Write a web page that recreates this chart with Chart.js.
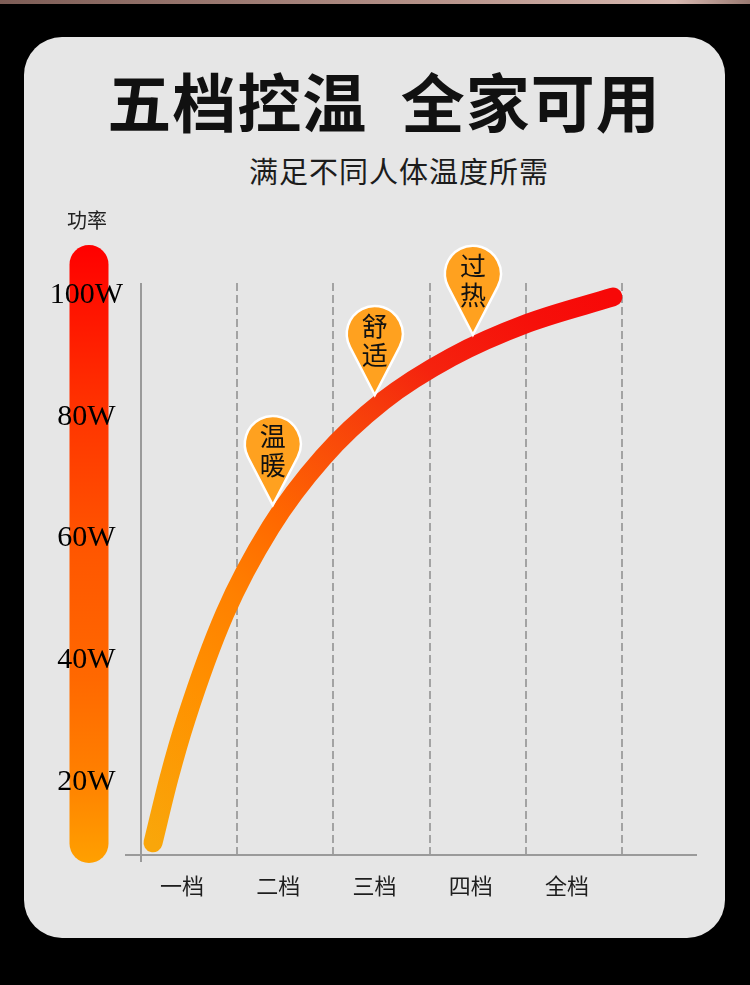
<!DOCTYPE html>
<html lang="zh-CN">
<head>
<meta charset="utf-8">
<title>五档控温 全家可用</title>
<script src="https://cdn.jsdelivr.net/npm/chart.js@4.4.1/dist/chart.umd.min.js"></script>
<style>
  html, body { margin: 0; padding: 0; background: #000; }
  body { width: 750px; height: 985px; position: relative; overflow: hidden; font-family: "Noto Sans CJK SC", sans-serif; }
  .strip { position: absolute; left: 0; top: 0; width: 750px; height: 4px; background: linear-gradient(90deg, #7d5d56, #b8948b 60%, #d6b8b0 90%, #9a7a72); }
  .card { position: absolute; left: 24px; top: 37px; width: 701px; height: 901px; border-radius: 38px; background: #e6e6e6; }
  .title { position: absolute; left: 0; top: 67px; width: 768px; text-align: center; font-size: 64px; line-height: 64px; font-weight: 700; color: #111; letter-spacing: 1px; word-spacing: 18px; white-space: pre; z-index: 2; }
  .subtitle { position: absolute; left: 0; top: 155px; width: 798px; text-align: center; font-size: 29px; line-height: 30px; color: #1c1c1c; letter-spacing: 1px; z-index: 2; }
  .unit { position: absolute; left: 67px; top: 209px; font-size: 20px; line-height: 22px; color: #222; z-index: 2; }
  .chart-box { position: absolute; left: 0; top: 200px; width: 750px; height: 740px; z-index: 1; }
</style>
</head>
<body>
<div class="strip"></div>
<div class="card"></div>
<div class="title">五档控温 全家可用</div>
<div class="subtitle">满足不同人体温度所需</div>
<div class="unit">功率</div>
<div class="chart-box"><canvas id="myChart"></canvas></div>

<script>
// Chart data: categories, power ticks and the curve
const gearLabels = ['一档', '二档', '三档', '四档', '全档'];
const wattTicks = [20, 40, 60, 80, 100];

// Power curve (position on the gear axis, watts)
const curveGear = [0.125, 0.29, 0.47, 0.87, 1.345, 1.89, 2.515, 3.225, 4.02, 4.905];
const curveWatt = [10.0, 20.6, 30.4, 47.6, 61.8, 73.3, 82.6, 89.8, 95.4, 99.7];

// Markers (the tip of each marker touches the curve)
const pinLabels = ['温暖', '舒适', '过热'];
const pinGear = [1.37, 2.43, 3.45];
const pinWatt = [65.5, 83.6, 93.5];

// Curve gradient: orange at the start, red at the end
const curveGradient = (context) => {
    const chart = context.chart;
    const { ctx, chartArea, scales } = chart;
    if (!chartArea) {
        return '#ff6000';
    }
    const last = curveGear.length - 1;
    const x0 = scales.x.getPixelForValue(curveGear[0]);
    const y0 = scales.y.getPixelForValue(curveWatt[0]);
    const x1 = scales.x.getPixelForValue(curveGear[last]);
    const y1 = scales.y.getPixelForValue(curveWatt[last]);
    const g = ctx.createLinearGradient(x0, y0, x1, y1);
    g.addColorStop(0, '#f9a60a');
    g.addColorStop(0.2, '#ff9100');
    g.addColorStop(0.34, '#ff8000');
    g.addColorStop(0.46, '#ff6800');
    g.addColorStop(0.57, '#fa5008');
    g.addColorStop(0.67, '#f63a0c');
    g.addColorStop(0.76, '#f5220e');
    g.addColorStop(0.9, '#f6100a');
    g.addColorStop(1, '#f70808');
    return g;
};

// Plugin for the colour bar, the axis lines and the markers
const decorPlugin = {
    id: 'decor',
    beforeDraw(chart) {
        // 1. Vertical power bar (behind the Y tick labels)
        const { ctx, chartArea } = chart;
        const w = 39;
        const cx = chartArea.left - 52;
        const top = chartArea.top - 38;
        const bottom = chartArea.bottom + 8;
        const g = ctx.createLinearGradient(0, top, 0, bottom);
        g.addColorStop(0, '#ff0000');
        g.addColorStop(0.27, '#ff3400');
        g.addColorStop(0.5, '#ff5700');
        g.addColorStop(0.7, '#ff6800');
        g.addColorStop(0.86, '#ff8000');
        g.addColorStop(1, '#ffa000');
        ctx.save();
        ctx.fillStyle = g;
        ctx.beginPath();
        ctx.roundRect(cx - w / 2, top, w, bottom - top, w / 2);
        ctx.fill();
        ctx.restore();
    },
    beforeDatasetsDraw(chart) {
        // 2. Solid vertical axis and the horizontal axis
        const { ctx, chartArea } = chart;
        ctx.save();
        ctx.strokeStyle = '#9a9a9a';
        ctx.lineWidth = 2;
        ctx.beginPath();
        ctx.moveTo(chartArea.left, chartArea.top);
        ctx.lineTo(chartArea.left, chartArea.bottom + 7);
        ctx.moveTo(chartArea.left - 16, chartArea.bottom);
        ctx.lineTo(chartArea.right + 75, chartArea.bottom);
        ctx.stroke();
        ctx.restore();
    },
    afterDatasetsDraw(chart) {
        // 3. Drop-shaped markers with two stacked characters
        const { ctx } = chart;
        const xs = chart.scales.x;
        const ys = chart.scales.y;
        const r = 28;
        const d = 61;
        const beta = Math.acos(r / d);
        pinLabels.forEach((label, i) => {
            const tx = xs.getPixelForValue(pinGear[i]);
            const ty = ys.getPixelForValue(pinWatt[i]);
            const cy = ty - d;
            ctx.save();
            ctx.beginPath();
            ctx.moveTo(tx, ty);
            ctx.arc(tx, cy, r, Math.PI / 2 + beta, Math.PI / 2 - beta + 2 * Math.PI);
            ctx.closePath();
            ctx.fillStyle = '#ffa11f';
            ctx.fill();
            ctx.lineWidth = 2.5;
            ctx.strokeStyle = '#ffffff';
            ctx.stroke();
            ctx.fillStyle = '#111';
            ctx.font = '26px "Noto Sans CJK SC"';
            ctx.textAlign = 'center';
            ctx.textBaseline = 'middle';
            ctx.fillText(label[0], tx, cy - 8);
            ctx.fillText(label[1], tx, cy + 21);
            ctx.restore();
        });
    }
};

const myChart = () => {
    const ctx = document.getElementById('myChart').getContext('2d');
    const points = curveGear.map((g, i) => ({ x: g, y: curveWatt[i] }));

    new Chart(ctx, {
        type: 'line',
        data: {
            datasets: [{
                label: '功率',
                data: points,
                borderColor: curveGradient,
                borderWidth: 19,
                borderCapStyle: 'round',
                borderJoinStyle: 'round',
                cubicInterpolationMode: 'monotone',
                pointRadius: 0,
                fill: false,
                clip: false
            }]
        },
        options: {
            responsive: true,
            maintainAspectRatio: false,
            animation: false,
            events: [],
            layout: { padding: { left: 40, right: 128, top: 83, bottom: 40 } },
            plugins: {
                legend: { display: false },
                tooltip: { enabled: false }
            },
            scales: {
                x: {
                    type: 'linear',
                    position: 'bottom',
                    min: 0,
                    max: 5,
                    ticks: { display: false, stepSize: 1 },
                    grid: {
                        drawTicks: false,
                        lineWidth: 2,
                        color: (c) => (c.tick && c.tick.value === 0 ? 'rgba(0,0,0,0)' : '#a3a3a3')
                    },
                    border: { display: false, dash: [8, 4] }
                },
                gear: {
                    type: 'category',
                    labels: gearLabels,
                    position: 'bottom',
                    offset: true,
                    weight: 1,
                    afterFit: (s) => { s.height = 45; },
                    grid: { display: false, drawTicks: false },
                    border: { display: false },
                    ticks: {
                        color: '#1e1e1e',
                        padding: 17,
                        labelOffset: -7,
                        font: { family: 'Noto Sans CJK SC', size: 22 }
                    }
                },
                y: {
                    type: 'linear',
                    position: 'left',
                    min: 8,
                    max: 102,
                    afterBuildTicks: (s) => { s.ticks = wattTicks.map((v) => ({ value: v })); },
                    afterFit: (s) => { s.width = 101; },
                    grid: { display: false, drawTicks: false },
                    border: { display: false },
                    ticks: {
                        crossAlign: 'center',
                        padding: 18,
                        color: '#000',
                        font: { family: 'Liberation Serif', size: 30 },
                        callback: (v) => v + 'W'
                    }
                }
            }
        },
        plugins: [decorPlugin]
    });
};

myChart();
</script>
</body>
</html>
